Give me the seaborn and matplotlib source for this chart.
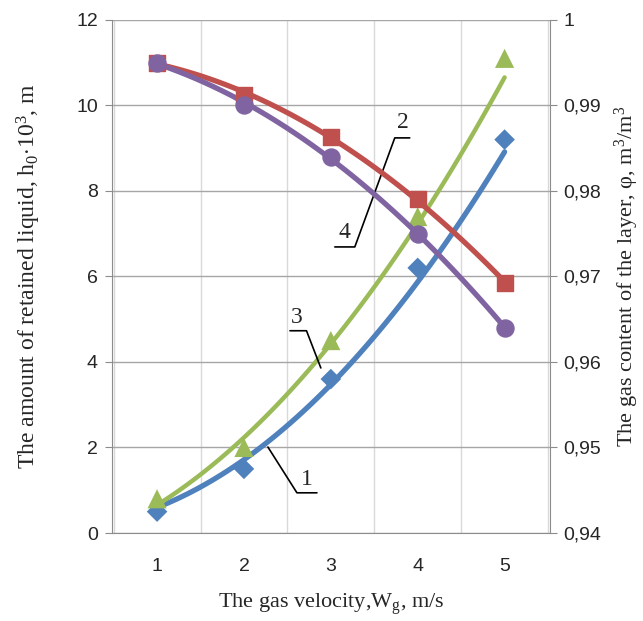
import matplotlib
matplotlib.use("Agg")
import matplotlib.pyplot as plt
import seaborn as sns
import pandas as pd
import numpy as np

# gas velocity, m/s
velocity = [1, 2, 3, 4, 5]
# retained liquid h0*10^3 (left axis): measured points and drawn curve
h_points1 = [0.5, 1.5, 3.6, 6.2, 9.2]
h_line1 = [0.6, 1.75, 3.35, 6.0, 8.87]
h_points3 = [0.8, 2.0, 4.5, 7.4, 11.1]
h_line3 = [0.75, 2.1, 4.25, 7.6, 10.5]
# gas content phi (right axis)
phi_curve2 = [0.995, 0.99125, 0.98625, 0.9791, 0.96925]
phi_curve4 = [0.995, 0.990, 0.984, 0.975, 0.964]

left_ticks = [0, 2, 4, 6, 8, 10, 12]
right_ticks = [0.94, 0.95, 0.96, 0.97, 0.98, 0.99, 1.0]
right_labels = ['0,94', '0,95', '0,96', '0,97', '0,98', '0,99', '1']

blue = '#4f81bd'
red = '#c0504d'
green = '#9bbb59'
purple = '#8064a2'

sns.set_style('white')
plt.rcParams['font.family'] = ['Liberation Sans', 'DejaVu Sans']
plt.rcParams['mathtext.fontset'] = 'custom'
plt.rcParams['mathtext.rm'] = 'Liberation Serif'
plt.rcParams['mathtext.it'] = 'Liberation Serif:italic'

df = pd.DataFrame({'v': velocity, 'h1': h_points1, 'l1': h_line1,
                   'h3': h_points3, 'l3': h_line3,
                   'p2': phi_curve2, 'p4': phi_curve4})

fig = plt.figure(figsize=(6.43, 6.21), dpi=100)
ax = fig.add_axes([0.174, 0.1417, 0.681, 0.8263])
ax2 = ax.twinx()

# curves 1 and 3 (left axis)
sns.regplot(data=df, x='v', y='l1', order=2, ci=None, ax=ax, color=blue, truncate=True,
            scatter=False, line_kws={'lw': 3.8, 'zorder': 2})
sns.regplot(data=df, x='v', y='l3', order=2, ci=None, ax=ax, color=green, truncate=True,
            scatter=False, line_kws={'lw': 3.2, 'zorder': 2})
sns.scatterplot(data=df, x='v', y='h1', ax=ax, color=blue, marker='D', s=110,
                edgecolor='none', zorder=3)
sns.scatterplot(data=df, x='v', y='h3', ax=ax, color=green, marker='^', s=190,
                edgecolor='none', zorder=3)

# curves 2 and 4 (right axis)
sns.regplot(data=df, x='v', y='p2', order=2, ci=None, ax=ax2, color=red, truncate=True,
            marker='s', scatter_kws={'s': 130, 'zorder': 3, 'alpha': 1},
            line_kws={'lw': 3.8, 'zorder': 2})
sns.regplot(data=df, x='v', y='p4', order=2, ci=None, ax=ax2, color=purple, truncate=True,
            marker='o', scatter_kws={'s': 150, 'zorder': 3, 'alpha': 1},
            line_kws={'lw': 3.8, 'zorder': 2})

ax.set_xlim(0.48, 5.52)
ax.set_ylim(0, 12)
ax2.set_ylim(0.94, 1.0)
ax.set_xticks(velocity)
ax.set_xticks(np.arange(0.5, 5.51, 0.5), minor=True)
ax.set_yticks(left_ticks)
ax2.set_yticks(right_ticks)
ax2.set_yticklabels(right_labels)

ax.grid(axis='y', color='#a6a6a6', lw=1)
ax.grid(axis='x', which='minor', color='#d9d9d9', lw=1)
ax.set_axisbelow(True)
for a in (ax, ax2):
    for s in a.spines.values():
        s.set_color('#8c8c8c')
        s.set_visible(False)
ax.spines['left'].set_visible(True)
ax.spines['bottom'].set_visible(True)
ax2.spines['right'].set_visible(True)
ax.tick_params(axis='both', which='both', direction='out', length=5, color='#8c8c8c',
               labelsize=14, pad=5)
ax.tick_params(axis='x', which='major', pad=13)
ax2.tick_params(axis='y', direction='out', length=5, color='#8c8c8c', labelsize=14, pad=5)

serif = ['Liberation Serif', 'DejaVu Serif']
ax.set_xlabel(r'The gas velocity,W$_\mathrm{g}$, m/s', family=serif, fontsize=16, labelpad=12)
ax.set_ylabel(r'The amount of retained liquid, h$_0$$\cdot$10$^3$, m', family=serif,
              fontsize=17, labelpad=24)
ax2.set_ylabel(r'The gas content of the layer, φ, m$^3$/m$^3$', family=serif,
               fontsize=16, labelpad=8)

# curve labels with leader lines
labels = [('1', 2.72, 1.24, [2.276, 2.61, 2.84], [2.01, 0.94, 0.94]),
          ('3', 2.61, 5.05, [2.53, 2.72, 2.885], [4.73, 4.73, 3.86]),
          ('2', 3.83, 9.59, [3.908, 3.736, 3.276, 3.046], [9.24, 9.24, 6.69, 6.69]),
          ('4', 3.16, 7.02, [], [])]
for txt, tx, ty, lx, ly in labels:
    ax2.annotate(txt, xy=(tx, ty), xycoords=ax.transData, ha='center', va='center',
                 family=serif, fontsize=17, zorder=6)
    if lx:
        ax.plot(lx, ly, color='black', lw=1.2, zorder=5)

fig.savefig('out.png', dpi=100)
